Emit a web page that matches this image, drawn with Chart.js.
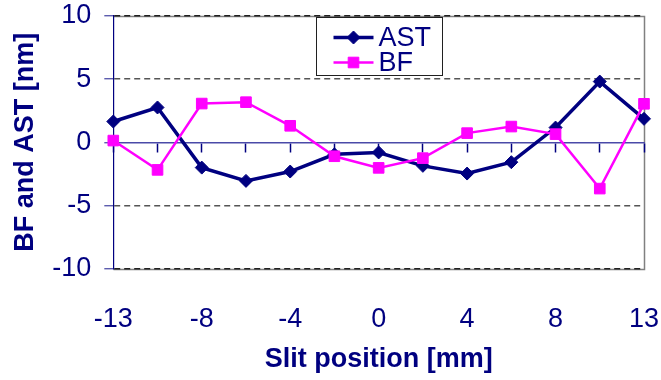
<!DOCTYPE html>
<html>
<head>
<meta charset="utf-8">
<title>BF and AST vs slit position</title>
<script src="https://cdn.jsdelivr.net/npm/chart.js@4/dist/chart.umd.min.js"></script>
<style>
  html, body { margin: 0; padding: 0; background: #fff; }
  canvas { display: block; }
</style>
</head>
<body>
<canvas id="chart" width="661" height="380"></canvas>
<script>
// Slit positions along the x axis (mm); only some of them carry a printed label
const slitPositions = [-13, -10.5, -8, -6, -4, -2, 0, 2, 4, 6, 8, 10.5, 13];
const labelledPositions = [-13, -8, -4, 0, 4, 8, 13];

// Measured aberrations (nm)
const astValues = [1.65, 2.76, -2.0, -3.05, -2.31, -0.95, -0.8, -1.86, -2.47, -1.57, 1.17, 4.81, 1.86];
const bfValues  = [0.14, -2.18, 3.07, 3.18, 1.31, -1.1, -2.02, -1.25, 0.73, 1.25, 0.65, -3.66, 3.05];

// Value axis
const yMin = -10, yMax = 10, yStep = 5;

const NAVY = '#000080';
const MAGENTA = '#ff00ff';
const FONT_FAMILY = '"Liberation Sans", Arial, Helvetica, sans-serif';

// Fixed frame of the plotting area inside the 661 x 380 canvas
const FRAME = { yAxisWidth: 113.3, xAxisHeight: 107.3, top: 16, right: 17 };

// Grey frame around the plotting area (drawn under the grid lines)
const plotFrame = {
  id: 'plotFrame',
  beforeDraw(chart) {
    const { ctx, chartArea: a } = chart;
    ctx.save();
    ctx.strokeStyle = '#808080';
    ctx.lineWidth = 1.5;
    ctx.beginPath();
    ctx.moveTo(Math.round(a.left) + 0.5, Math.round(a.top) + 0.5);
    ctx.lineTo(Math.round(a.right) + 0.5, Math.round(a.top) + 0.5);
    ctx.lineTo(Math.round(a.right) + 0.5, Math.round(a.bottom) + 0.5);
    ctx.lineTo(Math.round(a.left) + 0.5, Math.round(a.bottom) + 0.5);
    ctx.stroke();
    ctx.restore();
  }
};

// Boxed legend with stacked entries, centred at the top of the plot
const boxLegend = {
  id: 'boxLegend',
  afterDraw(chart, args, opts) {
    const { ctx, chartArea: a } = chart;
    const cx = (a.left + a.right) / 2;
    const x0 = Math.round(cx - opts.width / 2) + 0.5;
    const y0 = Math.round(a.top + opts.top) + 0.5;
    ctx.save();
    ctx.fillStyle = '#ffffff';
    ctx.fillRect(x0, y0, opts.width, opts.height);
    ctx.strokeStyle = '#202020';
    ctx.lineWidth = 1;
    ctx.strokeRect(x0, y0, opts.width, opts.height);
    chart.data.datasets.forEach((ds, i) => {
      const y = y0 + opts.firstRow + i * opts.rowGap;
      const lx = x0 + opts.lineStart;
      ctx.strokeStyle = ds.borderColor;
      ctx.lineWidth = ds.borderWidth;
      ctx.beginPath();
      ctx.moveTo(lx, y);
      ctx.lineTo(lx + opts.lineLength, y);
      ctx.stroke();
      ctx.fillStyle = ds.pointBackgroundColor;
      ctx.strokeStyle = ds.pointBorderColor;
      ctx.lineWidth = ds.pointBorderWidth;
      Chart.helpers.drawPoint(ctx, {
        pointStyle: ds.pointStyle,
        radius: ds.pointRadius,
        rotation: 0,
        borderWidth: ds.pointBorderWidth
      }, lx + opts.lineLength / 2, y);
      ctx.fillStyle = NAVY;
      ctx.font = opts.font;
      ctx.textAlign = 'left';
      ctx.textBaseline = 'middle';
      ctx.fillText(ds.label, x0 + opts.textStart, y + opts.textShift);
    });
    ctx.restore();
  }
};

new Chart(document.getElementById('chart'), {
  type: 'line',
  data: {
    labels: slitPositions,
    datasets: [
      {
        label: 'AST',
        data: astValues,
        borderColor: NAVY,
        borderWidth: 3.5,
        pointStyle: 'rectRot',
        pointRadius: 6.5,
        pointBackgroundColor: NAVY,
        pointBorderColor: NAVY,
        pointBorderWidth: 1,
        tension: 0,
        clip: false,
        order: 2
      },
      {
        label: 'BF',
        data: bfValues,
        borderColor: MAGENTA,
        borderWidth: 2.5,
        pointStyle: 'rect',
        pointRadius: 7.5,
        pointBackgroundColor: MAGENTA,
        pointBorderColor: MAGENTA,
        pointBorderWidth: 1,
        tension: 0,
        clip: false,
        order: 1
      }
    ]
  },
  options: {
    responsive: false,
    animation: false,
    events: [],
    layout: { padding: { left: 0, right: 0, top: 0, bottom: 4 } },
    scales: {
      x: {
        type: 'category',
        position: 'bottom',
        offset: false,
        grid: { display: false },
        border: { display: false },
        ticks: {
          autoSkip: false,
          maxRotation: 0,
          padding: 27,
          color: NAVY,
          font: { family: FONT_FAMILY, size: 27 },
          callback(value, index) {
            const pos = slitPositions[index];
            return labelledPositions.includes(pos) ? String(pos) : '';
          }
        },
        title: {
          display: true,
          text: 'Slit position [mm]',
          color: NAVY,
          font: { family: FONT_FAMILY, size: 27, weight: 'bold' },
          padding: { top: 14, bottom: 0 }
        },
        afterFit(scale) {
          scale.height = FRAME.xAxisHeight;
          scale.paddingLeft = 0;
          scale.paddingRight = FRAME.right;
        }
      },
      // category axis line drawn across the plot at y = 0, ticks pointing down
      xZero: {
        type: 'category',
        position: { y: 0 },
        offset: false,
        grid: {
          display: true,
          drawOnChartArea: false,
          drawTicks: true,
          tickLength: 9,
          tickColor: NAVY,
          tickWidth: 1.5
        },
        border: { display: true, color: '#4a4aa8', width: 1.5 },
        ticks: { display: false, autoSkip: false }
      },
      y: {
        min: yMin,
        max: yMax,
        position: 'left',
        ticks: {
          stepSize: yStep,
          padding: 13,
          color: NAVY,
          font: { family: FONT_FAMILY, size: 27 }
        },
        grid: {
          drawTicks: true,
          tickLength: 9,
          tickColor: '#4040a0',
          tickWidth: 1.2,
          lineWidth: 1.5,
          color(ctx) {
            const v = ctx.tick ? ctx.tick.value : null;
            if (v === 0) return 'rgba(0,0,0,0)';
            if (v === yMin || v === yMax) return '#202020';
            return '#555555';
          }
        },
        border: { display: true, color: NAVY, width: 1.2, dash: [6, 4] },
        title: {
          display: true,
          text: 'BF and AST [nm]',
          color: NAVY,
          font: { family: FONT_FAMILY, size: 27, weight: 'bold' },
          padding: { top: 9, bottom: 11 }
        },
        afterFit(scale) {
          scale.width = FRAME.yAxisWidth;
          scale.paddingTop = FRAME.top;
          scale.paddingBottom = 0;
        }
      }
    },
    plugins: {
      legend: { display: false },
      tooltip: { enabled: false },
      boxLegend: {
        width: 126,
        height: 58,
        top: 0.7,
        firstRow: 20,
        rowGap: 25,
        lineStart: 17,
        lineLength: 40,
        textStart: 62,
        textShift: 1.5,
        font: '27px ' + FONT_FAMILY
      }
    }
  },
  plugins: [plotFrame, boxLegend]
});
</script>
</body>
</html>
